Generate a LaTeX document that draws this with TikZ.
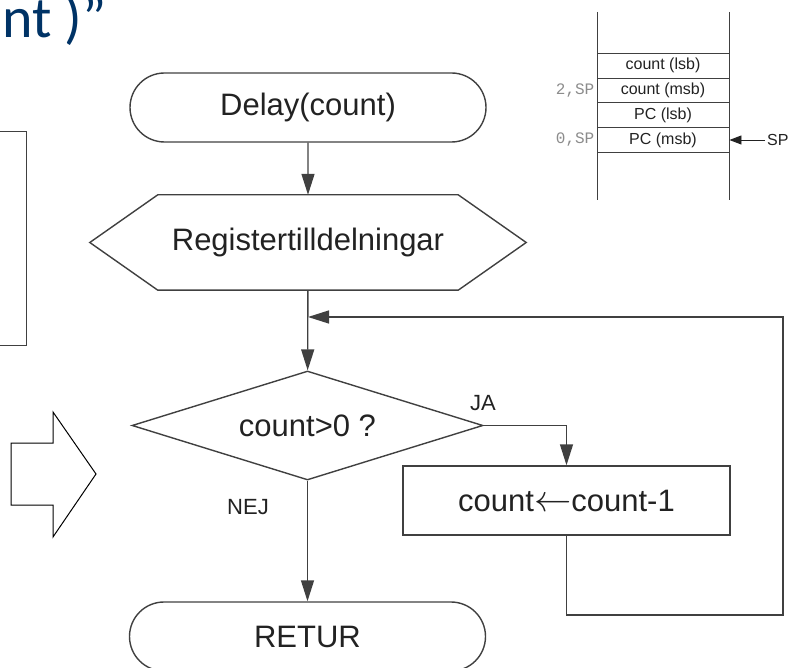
\documentclass[tikz,border=0pt]{standalone}
\usepackage{fontspec}
\setmainfont{Liberation Sans}
\newfontfamily\titlefont{Carlito}
\newfontfamily\offsetfont{Liberation Mono}
\usetikzlibrary{arrows.meta,shapes.geometric,shapes.misc}
\definecolor{linegray}{RGB}{64,64,64}
\definecolor{inkgray}{RGB}{34,34,34}
\definecolor{offsetgray}{RGB}{140,140,140}
\definecolor{titleblue}{RGB}{0,51,102}
\tikzset{
	flowfont/.style={font=\fontsize{31pt}{31pt}\selectfont, text=inkgray},
	terminal/.style={rounded rectangle, draw=linegray, line width=1.4pt, minimum width=356pt, minimum height=69pt, inner sep=0pt, flowfont},
	process/.style={rectangle, draw=linegray, line width=1.4pt, minimum width=327pt, minimum height=69pt, inner sep=0pt, flowfont},
	decision/.style={diamond, draw=linegray, line width=1.4pt, minimum width=351pt, minimum height=109pt, aspect=3.2, inner sep=0pt, flowfont},
	flow/.style={draw=linegray, line width=1.4pt, -{Triangle[length=21pt,width=13pt]}},
	branch/.style={font=\fontsize{22pt}{22pt}\selectfont, text=inkgray, inner sep=0pt},
	cell/.style={rectangle, draw=linegray, line width=0.9pt, minimum width=132pt, minimum height=24.75pt, inner sep=0pt, font=\fontsize{16pt}{16pt}\selectfont, text=inkgray},
	offset/.style={anchor=east, inner sep=2pt, text=offsetgray, font=\offsetfont\fontsize{16pt}{16pt}\selectfont}
}
\begin{document}
\begin{tikzpicture}[x=1pt,y=-1pt]
			%%%%% START %%%%%
			\useasboundingbox (0,0) rectangle (793,668);
			\clip (0,0) rectangle (793,668);
			
			% slide remains
			\node[anchor=base east, inner sep=0pt, text=titleblue, font=\titlefont\fontsize{58pt}{58pt}\selectfont] (title) at (107,38) {nt )”};
			\draw[line width=1pt, draw=linegray] (-5,132) rectangle (26,346);
			\draw[line width=1pt, fill=white] (11,443) -- (53,443) -- (53,412) -- (96,474) -- (53,537) -- (53,505) -- (11,505) -- cycle;
			
			% flowchart
			\node[terminal] (delay) at (308,107.5) {Delay(count)};
			\node[rectangle, minimum width=300pt, minimum height=95pt, inner sep=0pt, flowfont] (reg) at (308,242.5) {Registertilldelningar};
			\draw[draw=linegray, line width=1.4pt] (reg.north west) -- (reg.north east) -- ([xshift=68pt]reg.east) -- (reg.south east) -- (reg.south west) -- ([xshift=-68pt]reg.west) -- cycle;
			\node[decision] (cond) at (307.5,425.5) {count>0 ?};
			\node[process] (dec) at (566.5,500.5) {count\scalebox{1.5}{\ensuremath{\leftarrow}}count-1};
			\node[terminal] (retur) at (307.5,636.5) {RETUR};
			
			\node[branch] (ja) at (483,403) {JA};
			\node[branch] (nej) at (248,507) {NEJ};
			
			\coordinate (loopbl) at (566.5,615);
			\coordinate (loopbr) at (783,615);
			\coordinate (looptr) at (783,317);
			\coordinate (join) at (308,317);
			
			\draw[flow] (delay) -- (reg);
			\draw[flow] (reg) -- (cond);
			\draw[flow] (cond.east) -| (dec.north);
			\draw[flow] (cond) -- (retur);
			\draw[flow] (dec.south) -- (loopbl) -- (loopbr) -- (looptr) -- (join);
			
			% stack
			\draw[line width=0.9pt, draw=linegray] (597,12) -- (597,200);
			\draw[line width=0.9pt, draw=linegray] (729,12) -- (729,200);
			\foreach \lab [count=\i] in {count (lsb), count (msb), PC (lsb), PC (msb)}
				\node[cell] (c\i) at (663,41+\i*24.75) {\lab};
			\node[offset] (off2) at (c2.west) {2,SP};
			\node[offset] (off0) at (c4.west) {0,SP};
			\node[anchor=west, inner sep=2pt, text=inkgray, font=\fontsize{16pt}{16pt}\selectfont] (sp) at (765,140) {SP};
			\draw[draw=inkgray, line width=0.9pt, -{Triangle[length=12pt,width=9pt]}] (sp.west) -- (c4.east);
			
			%%%%% END %%%%%
\end{tikzpicture}
\end{document}
